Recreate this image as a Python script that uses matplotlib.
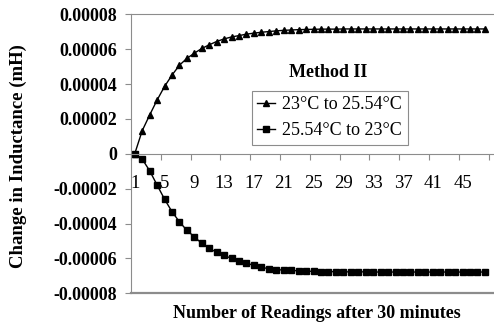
import matplotlib.pyplot as plt
import numpy as np

readings = np.arange(1, 49)

# change in inductance (x1e-5 mH)
heating = [0, 1.32, 2.22, 3.08, 3.86, 4.51, 5.08, 5.47, 5.77, 6.04,
           6.25, 6.44, 6.59, 6.70, 6.78, 6.86, 6.92, 6.97, 7.01, 7.05,
           7.08, 7.10, 7.12, 7.13, 7.14, 7.15, 7.15, 7.15, 7.16, 7.16,
           7.16, 7.16, 7.16, 7.16, 7.16, 7.16, 7.16, 7.16, 7.16, 7.16,
           7.16, 7.16, 7.16, 7.16, 7.16, 7.16, 7.16, 7.16]
cooling = [0, -0.30, -0.97, -1.79, -2.60, -3.32, -3.90, -4.39, -4.76, -5.14,
           -5.42, -5.65, -5.83, -6.00, -6.15, -6.27, -6.40, -6.51, -6.59, -6.64,
           -6.67, -6.69, -6.71, -6.73, -6.74, -6.75, -6.76, -6.76, -6.77, -6.77,
           -6.77, -6.77, -6.78, -6.78, -6.78, -6.78, -6.78, -6.78, -6.78, -6.78,
           -6.78, -6.78, -6.78, -6.78, -6.78, -6.78, -6.78, -6.78]
labels = ["23\u00b0C to 25.54\u00b0C", "25.54\u00b0C to 23\u00b0C"]
yticks = [-0.00008, -0.00006, -0.00004, -0.00002, 0, 0.00002, 0.00004, 0.00006, 0.00008]
ytick_labels = ["-0.00008", "-0.00006", "-0.00004", "-0.00002", "0",
                "0.00002", "0.00004", "0.00006", "0.00008"]

plt.rcParams['font.family'] = 'Liberation Serif'
gray = '#8c8c8c'

fig = plt.figure(figsize=(4.94, 3.30), dpi=100)
ax = fig.add_axes([131/494, 36.7/330, 363/494, 279/330])

ax.plot(readings, np.array(heating)*1e-5, color='black', lw=1,
        marker='^', ms=5, label=labels[0])
ax.plot(readings, np.array(cooling)*1e-5, color='black', lw=1,
        marker='s', ms=3.8, label=labels[1])

ax.set_xlim(0.5, 49.22)
ax.set_ylim(-0.00008, 0.00008)

ax.set_yticks(yticks)
ax.set_yticklabels(ytick_labels, fontweight='bold', fontsize=13)
ax.tick_params(axis='y', length=4, color=gray, pad=6)

# category axis: tick marks between categories, labels on categories
ax.set_xticks(np.arange(0.5, 49, 4))
ax.set_xticklabels([])
ax.set_xticks(np.arange(1, 46, 4), minor=True)
ax.set_xticklabels([str(v) for v in range(1, 46, 4)], minor=True)
ax.tick_params(axis='x', which='major', length=4.5, color=gray, direction='out')
ax.tick_params(axis='x', which='minor', length=0, pad=15, labelsize=13.5)
for t in ax.xaxis.get_minorticklabels():
    t.set_fontweight('bold')

ax.spines['bottom'].set_position(('data', 0))
for s in ['bottom', 'left', 'top']:
    ax.spines[s].set_color(gray)
ax.spines['right'].set_visible(False)
ax.axhline(-0.00008, color=gray, lw=1.6, clip_on=False)

ax.text(0.543, 0.793, "Method II", transform=ax.transAxes, ha='center', va='center',
        fontsize=13, fontweight='bold')
leg = ax.legend(loc='upper left', bbox_to_anchor=(0.3325, 0.726), borderaxespad=0,
                fontsize=13, handlelength=1.0, handletextpad=0.4, fancybox=False,
                edgecolor=gray, framealpha=1, labelspacing=0.5, borderpad=0.3)
leg.get_frame().set_linewidth(0.8)

fig.text(18/494, 1 - 156/330, "Change in Inductance (mH)", rotation=90,
         ha='center', va='center', fontsize=13.5, fontweight='bold')
fig.text(317/494, 1 - 313/330, "Number of Readings after 30 minutes",
         ha='center', va='center', fontsize=13, fontweight='bold')

fig.savefig('out.png', dpi=100)
